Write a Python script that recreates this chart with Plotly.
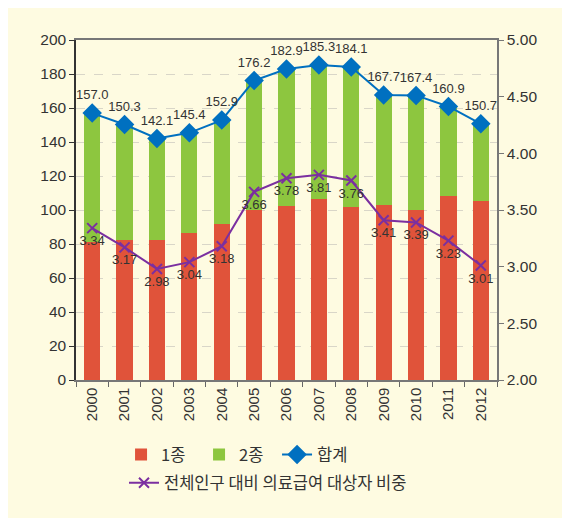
import plotly.graph_objects as go

years = ["2000","2001","2002","2003","2004","2005","2006","2007","2008","2009","2010","2011","2012"]
total = [157.0,150.3,142.1,145.4,152.9,176.2,182.9,185.3,184.1,167.7,167.4,160.9,150.7]
type1 = [81.4,82.4,82.4,86.7,92.0,100.0,102.5,106.5,101.6,103.1,100.2,108.4,105.5]
type2 = [round(t - a, 1) for t, a in zip(total, type1)]
ratio = [3.34,3.17,2.98,3.04,3.18,3.66,3.78,3.81,3.76,3.41,3.39,3.23,3.01]

FONT = "Liberation Sans, Arial, Noto Sans CJK KR, sans-serif"
KFONT = "Noto Sans CJK KR, Liberation Sans, sans-serif"
CREAM = "#fefbe1"

fig = go.Figure()
fig.add_trace(go.Bar(x=years, y=type1, name="1종", marker_color="#e0533a", marker_line_width=0,
                     legend="legend"))
fig.add_trace(go.Bar(x=years, y=type2, name="2종", marker_color="#8dc63f", marker_line_width=0,
                     legend="legend"))
fig.add_trace(go.Scatter(x=years, y=total, name="합계", mode="lines+markers+text",
                         line=dict(color="#0070c0", width=2),
                         marker=dict(symbol="diamond", size=15, color="#0070c0"),
                         text=[f"{v:.1f}" for v in total], textposition="top center",
                         textfont=dict(size=13, color="#333333", family=FONT),
                         legend="legend"))
fig.add_trace(go.Scatter(x=years, y=ratio, name="전체인구 대비 의료급여 대상자 비중", yaxis="y2",
                         mode="lines+markers+text",
                         line=dict(color="#7b2fa0", width=2),
                         marker=dict(symbol="x-thin", size=10, color="#7b2fa0",
                                     line=dict(color="#7b2fa0", width=2)),
                         text=[f"{v:.2f}" for v in ratio], textposition="bottom center",
                         textfont=dict(size=13, color="#333333", family=FONT),
                         legend="legend2"))

legend_common = dict(font=dict(size=16.5, family=KFONT, color="#333333"),
                     bgcolor="rgba(0,0,0,0)", itemwidth=30)

fig.update_layout(
    width=560, height=510,
    margin=dict(l=68, r=71, t=32, b=138, autoexpand=False),
    paper_bgcolor=CREAM, plot_bgcolor=CREAM,
    barmode="stack", bargap=0.5,
    font=dict(family=FONT, color="#333333"),
    showlegend=True,
    legend=dict(orientation="h", x=0.107, xanchor="left", y=-0.22, yanchor="middle",
                traceorder="normal", entrywidth=33, **legend_common),
    legend2=dict(orientation="h", x=0.114, xanchor="left", y=-0.303, yanchor="middle",
                 **legend_common),
    xaxis=dict(type="category", range=[-0.5, len(years) - 0.5], tickson="boundaries",
               ticks="outside", ticklen=5,
               tickcolor="#666666", tickangle=-90, showline=True, linecolor="#777777",
               linewidth=1.5, mirror=True, tickfont=dict(size=15, color="#333333"),
               showgrid=False, automargin=False),
    yaxis=dict(range=[0, 200], dtick=20, ticks="outside", ticklen=5, tickcolor="#333333",
               showline=True, linecolor="#333333", linewidth=1.5,
               gridcolor="#d9d6c8", griddash="dash", gridwidth=1,
               tickfont=dict(size=15.5, color="#333333"), zeroline=False, automargin=False),
    yaxis2=dict(range=[2.0, 5.0], dtick=0.5, tickformat=".2f", overlaying="y", side="right",
                ticks="outside", ticklen=5, tickcolor="#777777", showline=True,
                linecolor="#777777", linewidth=1.5, showgrid=False, zeroline=False,
                tickfont=dict(size=15.5, color="#333333"), automargin=False),
)

fig.write_html("out.html")
